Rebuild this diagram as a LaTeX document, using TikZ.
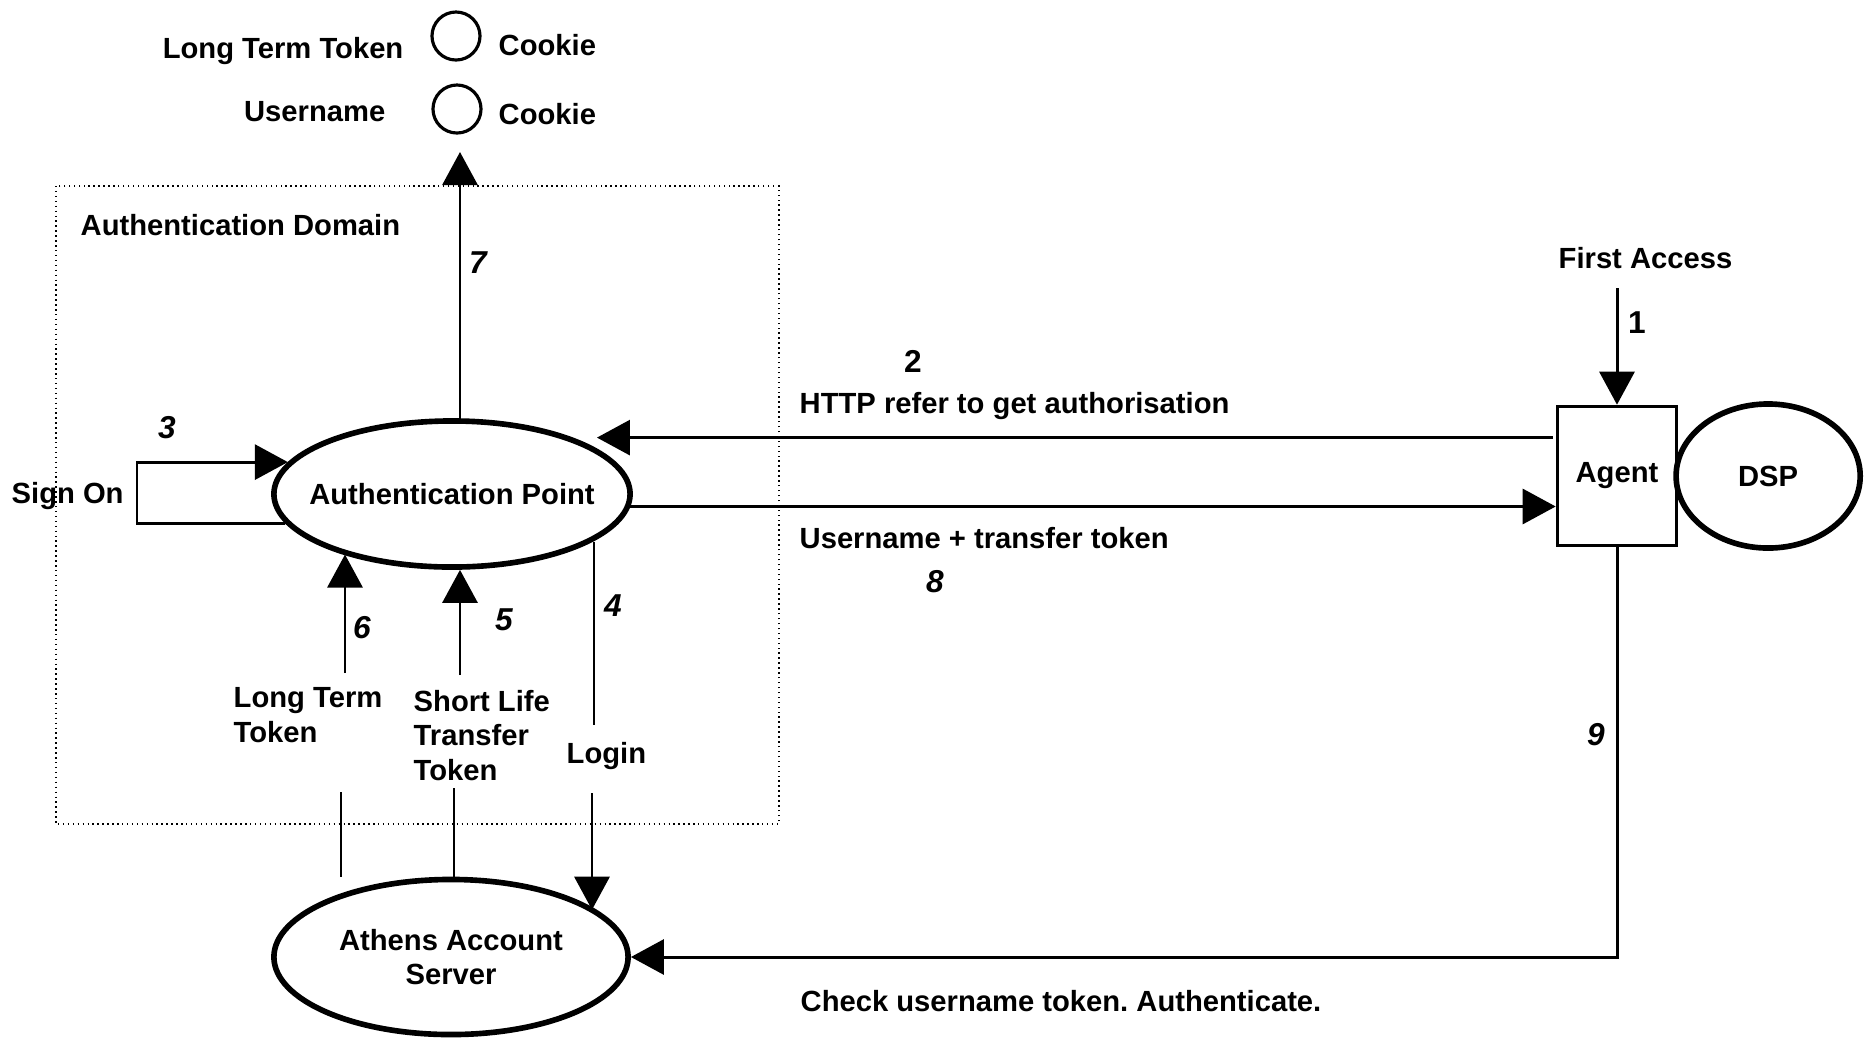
\documentclass[tikz,border=0pt]{standalone}
\usepackage{fontspec}
\setmainfont{Liberation Sans}
\usetikzlibrary{shapes.geometric,arrows.meta,positioning}

\begin{document}
\begin{tikzpicture}[x=0.01cm,y=-0.01cm,font=\fontsize{8.3}{9.8}\selectfont\bfseries,
  process/.style={ellipse,draw,line width=1.6pt,inner sep=0pt,align=center},
  store/.style={circle,draw,line width=0.9pt,minimum size=0.48cm,inner sep=0pt},
  agent box/.style={rectangle,draw,line width=1pt,minimum width=1.19cm,minimum height=1.39cm,inner sep=0pt},
  txt/.style={inner sep=0pt,anchor=base west,align=left},
  num/.style={inner sep=0pt,anchor=base,font=\fontsize{9}{10}\selectfont\bfseries\itshape},
  upnum/.style={num,font=\fontsize{9}{10}\selectfont\bfseries},
  flow/.style={line width=0.85pt,-{Triangle[length=0.33cm,width=0.35cm]}},
  wire/.style={line width=0.85pt}]
  \useasboundingbox (0,0) rectangle (1868,1044);

  \draw[densely dotted,line width=0.4pt] (56,186) rectangle (779,824);
  \node[txt] (dom) at (80,235) {Authentication Domain};

  \node[process,inner xsep=-0.18cm,minimum width=3.56cm,minimum height=1.46cm] (ap) at (452,494) {Authentication Point};
  \node[process,minimum width=3.54cm,minimum height=1.55cm] (aas) at (451,957) {Athens Account\\Server};
  \node[agent box] (agent) at (1617,476) {Agent};
  \node[process,minimum width=1.84cm,minimum height=1.44cm,right=-0.05cm of agent] (dsp) {DSP};

  \node[store] (c1) at (456,36) {};
  \node[store] (c2) at (457,109) {};
  \node[txt,anchor=base east] (ltt) at (404,58) {Long Term Token};
  \node[txt] (ck1) at (498,55) {Cookie};
  \node[txt,anchor=base east] (un) at (386,121) {Username};
  \node[txt] (ck2) at (498,124) {Cookie};

  \node[txt] (signon) at (11,503) {Sign On};
  \node[txt] (ltok) at (233,742) {Long Term\\Token};
  \node[txt] (sltok) at (413,780) {Short Life\\Transfer\\Token};
  \node[txt] (login) at (566,763) {Login};
  \node[txt] (first) at (1558,268) {First Access};
  \node[txt] (http) at (799,413) {HTTP refer to get authorisation};
  \node[txt] (utt) at (799,548) {Username + transfer token};
  \node[txt] (chk) at (800,1011) {Check username token.\ Authenticate.};

  \node[upnum] (n1) at (1637,333) {1};
  \node[upnum] (n2) at (913,372) {2};
  \node[num] (n3) at (167,438) {3};
  \node[num] (n4) at (613,616) {4};
  \node[num] (n5) at (504,630) {5};
  \node[num] (n6) at (362,638) {6};
  \node[num] (n7) at (478,273) {7};
  \node[num] (n8) at (935,592) {8};
  \node[num] (n9) at (1596,745) {9};

  \coordinate (t7) at (460,152);
  \coordinate (loop) at (137,463);
  \coordinate (s6) at (345,673);
  \coordinate (s5) at (460,675);
  \coordinate (e4) at (594,725);
  \coordinate (a6) at (341,792);
  \coordinate (a5) at (454,788);
  \coordinate (a4) at (592,793);
  \coordinate (s1) at (1617,288);

  \draw[flow] (s1) -- (agent.north);
  \draw[flow,shorten <=0.03cm,shorten >=0.24cm] (agent.west |- ap.25) -- (ap.25);
  \draw[flow] (ap.190) -| (loop) |- (ap.169);
  \draw[wire] (ap.341 -| e4) -- (e4);
  \draw[flow] (s5) -- (ap.south -| s5);
  \draw[flow] (s6) -- (s6 |- ap.209);
  \draw[flow] (ap.north -| t7) -- (t7);
  \draw[flow] (ap.356) -- (ap.356 -| agent.west);
  \draw[flow] (agent.south) |- (aas.east);
  \draw[wire] (a6) -- (a6 |- aas.north);
  \draw[wire] (a5) -- (a5 |- aas.north);
  \draw[flow] (a4) -- (a4 |- aas.18);
\end{tikzpicture}
\end{document}
